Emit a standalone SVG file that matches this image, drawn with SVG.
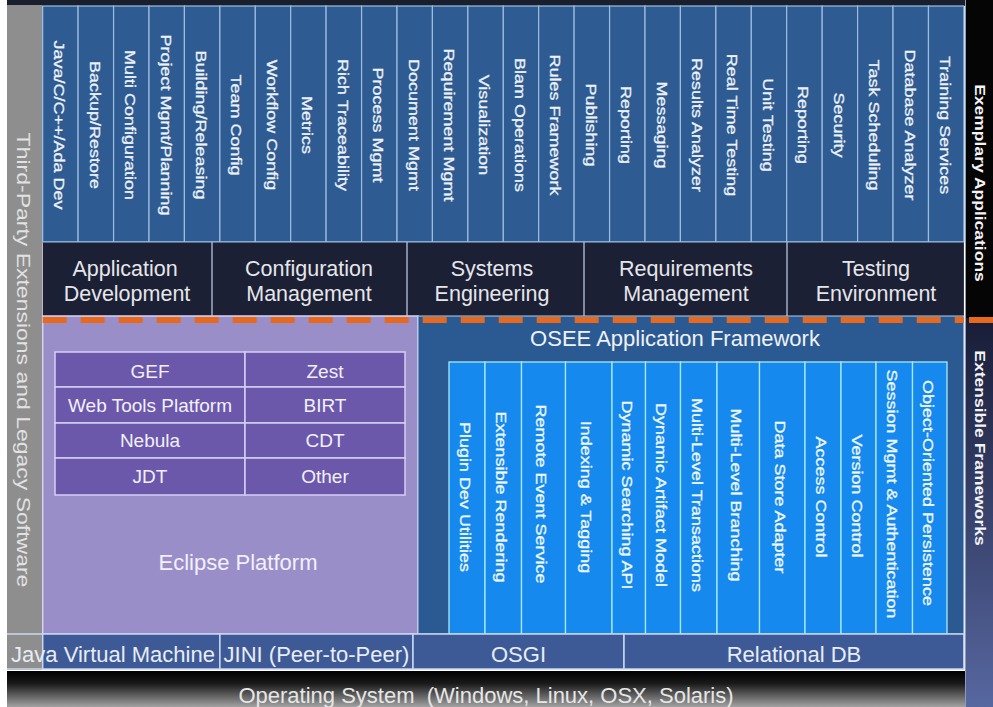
<svg xmlns="http://www.w3.org/2000/svg" width="993" height="707" viewBox="0 0 993 707">
<defs>
<style>
text{font-family:"Liberation Sans",Arial,sans-serif;}
.col{fill:#2d5b92;stroke:#9dbde0;stroke-width:1.2;}
.colt{font-size:18px;fill:#eef2f8;stroke:#eef2f8;stroke-width:0.35;text-anchor:middle;}
.cat{fill:#1b2035;}
.catl{stroke:#a4aec4;stroke-width:1.5;}
.catt{font-size:21.5px;fill:#e6e6ea;text-anchor:middle;}
.ecl{fill:#9a8ec8;stroke:#d8d2f2;stroke-width:1.5;}
.ecell{fill:#6b58aa;stroke:#d6cff2;stroke-width:1.5;}
.ecellt{font-size:19px;fill:#f2f0fa;text-anchor:middle;}
.osee{fill:#2b5a93;stroke:#b8cde6;stroke-width:1;}
.ocol{fill:#1689ee;stroke:#a6e8f6;stroke-width:1.3;}
.ocolt{font-size:18px;fill:#f0f8ff;stroke:#f0f8ff;stroke-width:0.35;text-anchor:middle;}
.row{fill:#3e5a96;stroke:#c8d8f0;stroke-width:1.5;}
.rowt{font-size:22px;fill:#e8ecf4;text-anchor:middle;}
.side{font-size:17.5px;font-weight:bold;fill:#f4f4f8;text-anchor:middle;}
</style>
<linearGradient id="osg" x1="0" y1="0" x2="0" y2="1">
<stop offset="0" stop-color="#000000"/>
<stop offset="0.35" stop-color="#1a1a1a"/>
<stop offset="1" stop-color="#a2a2a2"/>
</linearGradient>
<linearGradient id="rg" x1="0" y1="0" x2="0" y2="1">
<stop offset="0" stop-color="#181c36"/>
<stop offset="1" stop-color="#5767a0"/>
</linearGradient>
</defs>
<rect x="0" y="0" width="993" height="707" fill="#ffffff"/>
<rect x="7" y="0" width="960" height="6" fill="#1a1f2e"/>

<g id="third-party">
<rect x="7" y="5" width="35" height="665" fill="#8e8e8e"/>
<text transform="translate(24,360) rotate(90) scale(1,0.82)" dy="0.36em" style="font-size:23px;fill:#e2e2e2;text-anchor:middle">Third-Party Extensions and Legacy Software</text>
</g>

<g id="exemplary-applications">
<rect x="965" y="0" width="28" height="318" fill="#050505"/>
<text class="side" transform="translate(980,183) rotate(90) scale(1,0.86)" dy="0.36em">Exemplary Applications</text>
</g>
<g id="extensible-frameworks">
<rect x="965" y="318" width="28" height="389" fill="url(#rg)"/>
<text class="side" transform="translate(980,448) rotate(90) scale(1,0.86)" dy="0.36em">Extensible Frameworks</text>
</g>
<line x1="965.5" y1="0" x2="965.5" y2="707" stroke="#8f9bb8" stroke-width="1"/>

<g id="applications">
<rect x="42.7" y="6" width="921.2" height="236" fill="#2d5b92"/>
<g class="col">
<rect x="42.7" y="6" width="35.43" height="236"/><rect x="78.1" y="6" width="35.43" height="236"/>
<rect x="113.6" y="6" width="35.43" height="236"/><rect x="149.0" y="6" width="35.43" height="236"/>
<rect x="184.4" y="6" width="35.43" height="236"/><rect x="219.9" y="6" width="35.43" height="236"/>
<rect x="255.3" y="6" width="35.43" height="236"/><rect x="290.7" y="6" width="35.43" height="236"/>
<rect x="326.1" y="6" width="35.43" height="236"/><rect x="361.6" y="6" width="35.43" height="236"/>
<rect x="397.0" y="6" width="35.43" height="236"/><rect x="432.4" y="6" width="35.43" height="236"/>
<rect x="467.9" y="6" width="35.43" height="236"/><rect x="503.3" y="6" width="35.43" height="236"/>
<rect x="538.7" y="6" width="35.43" height="236"/><rect x="574.1" y="6" width="35.43" height="236"/>
<rect x="609.6" y="6" width="35.43" height="236"/><rect x="645.0" y="6" width="35.43" height="236"/>
<rect x="680.4" y="6" width="35.43" height="236"/><rect x="715.9" y="6" width="35.43" height="236"/>
<rect x="751.3" y="6" width="35.43" height="236"/><rect x="786.7" y="6" width="35.43" height="236"/>
<rect x="822.2" y="6" width="35.43" height="236"/><rect x="857.6" y="6" width="35.43" height="236"/>
<rect x="893.0" y="6" width="35.43" height="236"/><rect x="928.5" y="6" width="35.43" height="236"/>
</g>
<g class="colt">
<text transform="translate(59.4,125) rotate(90) scale(1,0.8)" dy="0.36em">Java/C/C++/Ada Dev</text>
<text transform="translate(94.9,125) rotate(90) scale(1,0.8)" dy="0.36em">Backup/Restore</text>
<text transform="translate(130.3,125) rotate(90) scale(1,0.8)" dy="0.36em">Multi Configuration</text>
<text transform="translate(165.7,125) rotate(90) scale(1,0.8)" dy="0.36em">Project Mgmt/Planning</text>
<text transform="translate(201.1,125) rotate(90) scale(1,0.8)" dy="0.36em">Building/Releasing</text>
<text transform="translate(236.6,125) rotate(90) scale(1,0.8)" dy="0.36em">Team Config</text>
<text transform="translate(272.0,125) rotate(90) scale(1,0.8)" dy="0.36em">Workflow Config</text>
<text transform="translate(307.4,125) rotate(90) scale(1,0.8)" dy="0.36em">Metrics</text>
<text transform="translate(342.9,125) rotate(90) scale(1,0.8)" dy="0.36em">Rich Traceability</text>
<text transform="translate(378.3,125) rotate(90) scale(1,0.8)" dy="0.36em">Process Mgmt</text>
<text transform="translate(413.7,125) rotate(90) scale(1,0.8)" dy="0.36em">Document Mgmt</text>
<text transform="translate(449.2,125) rotate(90) scale(1,0.8)" dy="0.36em">Requirement Mgmt</text>
<text transform="translate(484.6,125) rotate(90) scale(1,0.8)" dy="0.36em">Visualization</text>
<text transform="translate(520.0,125) rotate(90) scale(1,0.8)" dy="0.36em">Blam Operations</text>
<text transform="translate(555.5,125) rotate(90) scale(1,0.8)" dy="0.36em">Rules Framework</text>
<text transform="translate(590.9,125) rotate(90) scale(1,0.8)" dy="0.36em">Publishing</text>
<text transform="translate(626.3,125) rotate(90) scale(1,0.8)" dy="0.36em">Reporting</text>
<text transform="translate(661.7,125) rotate(90) scale(1,0.8)" dy="0.36em">Messaging</text>
<text transform="translate(697.2,125) rotate(90) scale(1,0.8)" dy="0.36em">Results Analyzer</text>
<text transform="translate(732.6,125) rotate(90) scale(1,0.8)" dy="0.36em">Real Time Testing</text>
<text transform="translate(768.0,125) rotate(90) scale(1,0.8)" dy="0.36em">Unit Testing</text>
<text transform="translate(803.5,125) rotate(90) scale(1,0.8)" dy="0.36em">Reporting</text>
<text transform="translate(838.9,125) rotate(90) scale(1,0.8)" dy="0.36em">Security</text>
<text transform="translate(874.3,125) rotate(90) scale(1,0.8)" dy="0.36em">Task Scheduling</text>
<text transform="translate(909.8,125) rotate(90) scale(1,0.8)" dy="0.36em">Database Analyzer</text>
<text transform="translate(945.2,125) rotate(90) scale(1,0.8)" dy="0.36em">Training Services</text>
</g>
</g>

<g id="categories">
<rect class="cat" x="42.7" y="242" width="921.2" height="74"/>
<line class="catl" x1="212" y1="242" x2="212" y2="316"/>
<line class="catl" x1="407" y1="242" x2="407" y2="316"/>
<line class="catl" x1="584" y1="242" x2="584" y2="316"/>
<line class="catl" x1="787" y1="242" x2="787" y2="316"/>
<line x1="42.7" y1="242" x2="963.9" y2="242" stroke="#9dbde0" stroke-width="1.2"/>
<g class="catt">
<text x="125" y="276">Application</text><text x="127" y="301">Development</text>
<text x="309" y="276">Configuration</text><text x="309" y="301">Management</text>
<text x="492" y="276">Systems</text><text x="492" y="301">Engineering</text>
<text x="686" y="276">Requirements</text><text x="686" y="301">Management</text>
<text x="876" y="276">Testing</text><text x="876" y="301">Environment</text>
</g>
</g>

<g id="eclipse-platform">
<rect class="ecl" x="42.7" y="316" width="375.3" height="318"/>
<rect class="ecell" x="55" y="352" width="190" height="35"/>
<rect class="ecell" x="245" y="352" width="160" height="35"/>
<rect class="ecell" x="55" y="387" width="190" height="36"/>
<rect class="ecell" x="245" y="387" width="160" height="36"/>
<rect class="ecell" x="55" y="423" width="190" height="35"/>
<rect class="ecell" x="245" y="423" width="160" height="35"/>
<rect class="ecell" x="55" y="458" width="190" height="37"/>
<rect class="ecell" x="245" y="458" width="160" height="37"/>
<g class="ecellt">
<text x="150" y="378">GEF</text><text x="325" y="378">Zest</text>
<text x="150" y="412">Web Tools Platform</text><text x="325" y="412">BIRT</text>
<text x="150" y="447">Nebula</text><text x="325" y="447">CDT</text>
<text x="150" y="483">JDT</text><text x="325" y="483">Other</text>
</g>
<text x="238" y="570" style="font-size:22px;fill:#f2f0fa;text-anchor:middle">Eclipse Platform</text>
</g>

<g id="osee-framework">
<rect class="osee" x="418" y="316" width="545.9" height="318"/>
<text x="675" y="346" style="font-size:22px;fill:#eef2f8;text-anchor:middle">OSEE Application Framework</text>
<g class="ocol">
<rect x="449" y="362" width="36" height="272"/>
<rect x="485" y="362" width="36.5" height="272"/>
<rect x="521.5" y="362" width="44" height="272"/>
<rect x="565.5" y="362" width="46.5" height="272"/>
<rect x="612" y="362" width="33.5" height="272"/>
<rect x="645.5" y="362" width="35" height="272"/>
<rect x="680.5" y="362" width="36.5" height="272"/>
<rect x="717" y="362" width="42.5" height="272"/>
<rect x="759.5" y="362" width="45.5" height="272"/>
<rect x="805" y="362" width="36" height="272"/>
<rect x="841" y="362" width="35" height="272"/>
<rect x="876" y="362" width="36.5" height="272"/>
<rect x="912.5" y="362" width="34.5" height="272"/>
</g>
<g class="ocolt">
<text transform="translate(465,497) rotate(90) scale(1,0.8)" dy="0.36em">Plugin Dev Utilities</text>
<text transform="translate(501.5,497) rotate(90) scale(1,0.8)" dy="0.36em">Extensible Rendering</text>
<text transform="translate(541.5,494) rotate(90) scale(1,0.8)" dy="0.36em">Remote Event Service</text>
<text transform="translate(586.5,497) rotate(90) scale(1,0.8)" dy="0.36em">Indexing &amp; Tagging</text>
<text transform="translate(627,495) rotate(90) scale(1,0.8)" dy="0.36em">Dynamic Searching API</text>
<text transform="translate(661.5,495) rotate(90) scale(1,0.8)" dy="0.36em">Dynamic Artifact Model</text>
<text transform="translate(697,495) rotate(90) scale(1,0.8)" dy="0.36em">Multi-Level Transactions</text>
<text transform="translate(736.5,495) rotate(90) scale(1,0.8)" dy="0.36em">Multi-Level Branching</text>
<text transform="translate(780.5,497) rotate(90) scale(1,0.8)" dy="0.36em">Data Store Adapter</text>
<text transform="translate(821,497) rotate(90) scale(1,0.8)" dy="0.36em">Access Control</text>
<text transform="translate(857.5,496) rotate(90) scale(1,0.8)" dy="0.36em">Version Control</text>
<text transform="translate(892.5,494) rotate(90) scale(1,0.8)" dy="0.36em">Session Mgmt &amp; Authentication</text>
<text transform="translate(928,493) rotate(90) scale(1,0.8)" dy="0.36em">Object-Oriented Persistence</text>
</g>
</g>

<g id="separators">
<line x1="42.7" y1="320" x2="963.9" y2="320" stroke="#e8691c" stroke-width="6" stroke-dasharray="24 14"/>
<line x1="969" y1="320" x2="993" y2="320" stroke="#e8691c" stroke-width="6"/>
</g>

<g id="java-vm">
<rect class="row" x="42.7" y="634" width="177.2" height="35"/>
<text x="113" y="662" class="rowt">Java Virtual Machine</text>
</g>
<g id="jini">
<rect class="row" x="219.9" y="634" width="193.1" height="35"/>
<text x="316.5" y="662" class="rowt">JINI (Peer-to-Peer)</text>
</g>
<g id="osgi">
<rect class="row" x="413" y="634" width="211" height="35"/>
<text x="518.5" y="662" class="rowt">OSGI</text>
</g>
<g id="relational-db">
<rect class="row" x="624" y="634" width="339.9" height="35"/>
<text x="794" y="662" class="rowt">Relational DB</text>
</g>
<line x1="7" y1="634" x2="42.7" y2="634" stroke="#c8d8f0" stroke-width="1.5"/>
<line x1="7" y1="669" x2="42.7" y2="669" stroke="#c8d8f0" stroke-width="1.5"/>

<g id="operating-system">
<rect x="7" y="671" width="958" height="36" fill="url(#osg)"/>
<text x="486" y="703" style="font-size:22px;fill:#e6e6e6;text-anchor:middle;white-space:pre" xml:space="preserve">Operating System  (Windows, Linux, OSX, Solaris)</text>
</g>
</svg>
